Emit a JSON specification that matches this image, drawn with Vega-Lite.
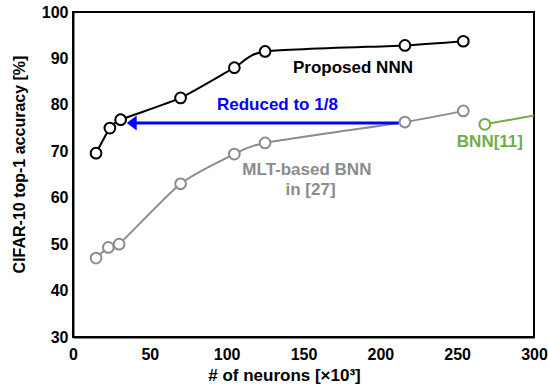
{
  "$schema": "https://vega.github.io/schema/vega-lite/v6.json",
  "width": 461,
  "height": 325,
  "autosize": "none",
  "padding": {"left": 73, "top": 12, "right": 14, "bottom": 53},
  "background": "white",
  "config": {
    "view": {"stroke": "black", "strokeWidth": 2},
    "font": "Liberation Sans",
    "axis": {
      "domainColor": "black",
      "domainWidth": 2,
      "ticks": false,
      "grid": false,
      "labelFont": "Liberation Sans",
      "labelFontSize": 16,
      "labelFontWeight": "bold",
      "labelColor": "black",
      "titleFont": "Liberation Sans",
      "titleFontWeight": "bold",
      "titleFontSize": 16,
      "titleColor": "black",
      "labelFlush": false,
      "labelOverlap": false
    }
  },
  "datasets": {
    "lines": [
      {"x": 15, "y": 69.6, "series": "NNN"},
      {"x": 24, "y": 75.0, "series": "NNN"},
      {"x": 31, "y": 76.8, "series": "NNN"},
      {"x": 70, "y": 81.5, "series": "NNN"},
      {"x": 105, "y": 88.0, "series": "NNN"},
      {"x": 125, "y": 91.5, "series": "NNN"},
      {"x": 216, "y": 92.8, "series": "NNN"},
      {"x": 254, "y": 93.7, "series": "NNN"},
      {"x": 15, "y": 47.0, "series": "MLT"},
      {"x": 23, "y": 49.3, "series": "MLT"},
      {"x": 30, "y": 50.0, "series": "MLT"},
      {"x": 70, "y": 63.0, "series": "MLT"},
      {"x": 105, "y": 69.4, "series": "MLT"},
      {"x": 125, "y": 71.8, "series": "MLT"},
      {"x": 216, "y": 76.3, "series": "MLT"},
      {"x": 254, "y": 78.7, "series": "MLT"},
      {"x": 268, "y": 75.8, "series": "BNN"},
      {"x": 300, "y": 77.7, "series": "BNN"}
    ],
    "points": [
      {"x": 15, "y": 69.6, "series": "NNN"},
      {"x": 24, "y": 75.0, "series": "NNN"},
      {"x": 31, "y": 76.8, "series": "NNN"},
      {"x": 70, "y": 81.5, "series": "NNN"},
      {"x": 105, "y": 88.0, "series": "NNN"},
      {"x": 125, "y": 91.5, "series": "NNN"},
      {"x": 216, "y": 92.8, "series": "NNN"},
      {"x": 254, "y": 93.7, "series": "NNN"},
      {"x": 15, "y": 47.0, "series": "MLT"},
      {"x": 23, "y": 49.3, "series": "MLT"},
      {"x": 30, "y": 50.0, "series": "MLT"},
      {"x": 70, "y": 63.0, "series": "MLT"},
      {"x": 105, "y": 69.4, "series": "MLT"},
      {"x": 125, "y": 71.8, "series": "MLT"},
      {"x": 216, "y": 76.3, "series": "MLT"},
      {"x": 254, "y": 78.7, "series": "MLT"},
      {"x": 268, "y": 75.8, "series": "BNN"}
    ],
    "arrow": [
      {"x": 212, "x2": 38.2, "y": 76.1}
    ],
    "labels": [
      {"x": 182.2, "y": 88.0, "text": "Proposed NNN", "series": "NNN"},
      {"x": 133, "y": 79.9, "text": "Reduced to 1/8", "series": "Arrow"},
      {"x": 152.2, "y": 66.05, "text": "MLT-based BNN", "series": "MLT"},
      {"x": 154.6, "y": 61.7, "text": "in [27]", "series": "MLT"},
      {"x": 271.3, "y": 72.07, "text": "BNN[11]", "series": "BNN"}
    ]
  },
  "encoding": {
    "x": {
      "field": "x", "type": "quantitative",
      "scale": {"domain": [0, 300], "nice": false},
      "axis": {"values": [0, 50, 100, 150, 200, 250, 300], "title": "# of neurons [×10³]", "labelPadding": 9, "titleX": 211, "titleY": 30, "titleBaseline": "top", "titleFontSize": 17}
    },
    "y": {
      "field": "y", "type": "quantitative",
      "scale": {"domain": [30, 100], "nice": false, "zero": false},
      "axis": {"values": [30, 40, 50, 60, 70, 80, 90, 100], "title": "CIFAR-10 top-1 accuracy [%]", "labelPadding": 5, "titleX": -46, "titleY": 152}
    }
  },
  "layer": [
    {
      "data": {"name": "lines"},
      "mark": {"type": "line", "interpolate": "cardinal", "tension": 0.4, "strokeWidth": 2, "clip": true},
      "encoding": {
        "detail": {"field": "series"},
        "stroke": {
          "field": "series", "type": "nominal", "legend": null,
          "scale": {"domain": ["NNN", "MLT", "BNN", "Arrow"], "range": ["#000000", "#8c8c8c", "#70ad47", "#0000ff"]}
        }
      }
    },
    {
      "data": {"values": [
        {"tv": 40}, {"tv": 50}, {"tv": 60}, {"tv": 70}, {"tv": 80}, {"tv": 90}
      ]},
      "mark": {"type": "rule", "stroke": "#000000", "strokeWidth": 2, "opacity": 1},
      "encoding": {
        "x": {"datum": 0, "type": "quantitative"},
        "x2": {"datum": 7.8},
        "y": {"field": "tv", "type": "quantitative"}
      }
    },
    {
      "data": {"values": [
        {"tv": 50}, {"tv": 100}, {"tv": 150}, {"tv": 200}, {"tv": 250}
      ]},
      "mark": {"type": "rule", "stroke": "#000000", "strokeWidth": 2, "opacity": 1},
      "encoding": {
        "x": {"field": "tv", "type": "quantitative"},
        "y": {"datum": 30, "type": "quantitative"},
        "y2": {"datum": 32.6}
      }
    },
    {
      "data": {"name": "arrow"},
      "mark": {"type": "rule", "color": "#0000ff", "strokeWidth": 3},
      "encoding": {"x2": {"field": "x2"}}
    },
    {
      "data": {"name": "arrow"},
      "mark": {"type": "point", "shape": "M-1,0L1,-1.5L1,1.5Z", "size": 100, "filled": true, "color": "#0000ff", "opacity": 1},
      "encoding": {"x": {"field": "x2", "type": "quantitative"}}
    },
    {
      "data": {"name": "points"},
      "mark": {"type": "point", "shape": "circle", "size": 115, "strokeWidth": 2, "fill": "white", "fillOpacity": 1, "opacity": 1},
      "encoding": {
        "stroke": {
          "field": "series", "type": "nominal", "legend": null,
          "scale": {"domain": ["NNN", "MLT", "BNN", "Arrow"], "range": ["#000000", "#8c8c8c", "#70ad47", "#0000ff"]}
        }
      }
    },
    {
      "data": {"name": "labels"},
      "mark": {"type": "text", "fontSize": 17, "fontWeight": "bold", "align": "center", "baseline": "middle", "font": "Liberation Sans"},
      "encoding": {
        "text": {"field": "text"},
        "color": {
          "field": "series", "type": "nominal", "legend": null,
          "scale": {"domain": ["NNN", "MLT", "BNN", "Arrow"], "range": ["#000000", "#8c8c8c", "#70ad47", "#0000ff"]}
        }
      }
    }
  ]
}
